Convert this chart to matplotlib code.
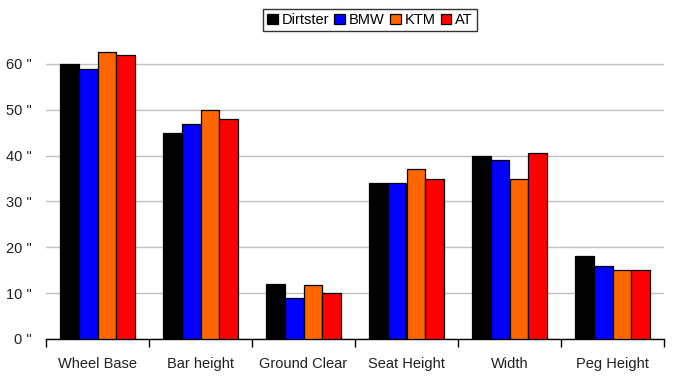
import numpy as np
import matplotlib
matplotlib.use('Agg')
import matplotlib.pyplot as plt
from matplotlib.ticker import FixedLocator

plt.rcParams.update({
    'font.family': ['Liberation Sans', 'DejaVu Sans'],
    'font.size': 10,
})

categories = ['Wheel Base', 'Bar height', 'Ground Clear', 'Seat Height', 'Width', 'Peg Height']
dirtster = [60, 45, 12, 34, 40, 18]
bmw = [59, 47, 9, 34, 39, 16]
ktm = [62.6, 50, 11.8, 37, 35, 15]
at = [62, 48, 10, 35, 40.5, 15]

series = [('Dirtster', dirtster, '#000000'),
          ('BMW', bmw, '#0000ff'),
          ('KTM', ktm, '#ff6600'),
          ('AT', at, '#ff0000')]

fig = plt.figure(figsize=(6.78, 3.78), dpi=100)
ax = fig.add_axes([46 / 678, 1 - 339 / 378, (664 - 46) / 678, (339 - 41) / 378])

x = np.arange(len(categories))
w = 0.182
for i, (name, vals, col) in enumerate(series):
    ax.bar(x + (i - 1.5) * w, vals, w, color=col, edgecolor='black', linewidth=0.9,
           label=name, zorder=3)

ax.set_xlim(-0.5, len(categories) - 0.5)
ax.set_ylim(0, 65)
ax.set_yticks(range(0, 61, 10))
ax.set_yticklabels([f'{v} "' for v in range(0, 61, 10)])
ax.yaxis.grid(True, color='#c0c0c0', linewidth=1, zorder=0)
ax.set_xticks(x)
ax.set_xticklabels(categories, fontsize=10.5, color='#202020')
ax.tick_params(axis='x', length=0, pad=13)
ax.xaxis.set_minor_locator(FixedLocator(np.arange(-0.5, len(categories), 1)))
ax.tick_params(axis='x', which='minor', length=6, width=1, color='black', direction='out')
ax.tick_params(axis='y', length=0, pad=10, labelsize=10.5, labelcolor='#202020')

for s in ['top', 'right', 'left']:
    ax.spines[s].set_visible(False)
ax.spines['bottom'].set_linewidth(1)

fig.legend(loc='center', bbox_to_anchor=(370 / 678, 1 - 20 / 378), ncol=4,
           fontsize=10.5, frameon=True, fancybox=False, edgecolor='black',
           handlelength=0.75, handleheight=0.75, handletextpad=0.25,
           columnspacing=0.35, borderpad=0.3, borderaxespad=0)

fig.savefig('out.png', dpi=100)
